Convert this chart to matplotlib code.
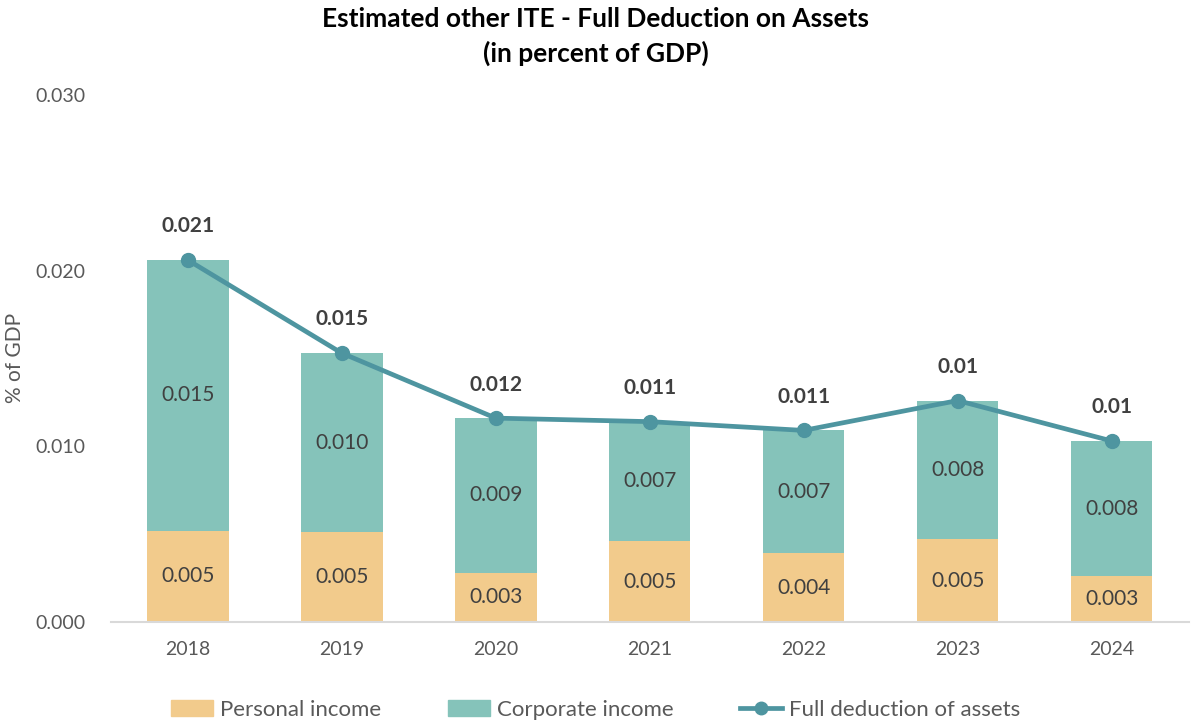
import numpy as np
import matplotlib
matplotlib.use("Agg")
import matplotlib.pyplot as plt
from matplotlib.lines import Line2D
from matplotlib.patches import Patch

plt.rcParams['font.family'] = ['Lato', 'DejaVu Sans']

years = ['2018', '2019', '2020', '2021', '2022', '2023', '2024']
personal = [0.0052, 0.0051, 0.0028, 0.0046, 0.0039, 0.0047, 0.0026]
corporate = [0.0154, 0.0102, 0.0088, 0.0068, 0.0070, 0.0079, 0.0077]
line_labels = ['0.021', '0.015', '0.012', '0.011', '0.011', '0.01', '0.01']

c_pers = '#F2CB8C'
c_corp = '#85C3BA'
c_line = '#4E95A0'
c_text = '#404040'
c_tick = '#595959'

x = np.arange(len(years))
pers = np.array(personal)
corp = np.array(corporate)
total = pers + corp

fig = plt.figure(figsize=(11.91, 7.24), dpi=100)
ax = fig.add_axes([0.093, 0.141, 0.905, 0.728])

ax.bar(x, pers, width=0.53, color=c_pers, zorder=2)
ax.bar(x, corp, width=0.53, bottom=pers, color=c_corp, zorder=2)
ax.plot(x, total, color=c_line, lw=3.4, marker='o', ms=10, zorder=3)

for i in range(len(x)):
    ax.text(x[i], pers[i] / 2, '%.3f' % pers[i], ha='center', va='center',
            fontsize=15, color=c_text, zorder=4)
    ax.text(x[i], pers[i] + corp[i] / 2, '%.3f' % corp[i], ha='center', va='center',
            fontsize=15, color=c_text, zorder=4)
    ax.annotate(line_labels[i], (x[i], total[i]), xytext=(0, 17), textcoords='offset points',
                ha='center', va='bottom', fontsize=15, fontweight='bold', color=c_text)

ax.set_xlim(-0.5, len(x) - 0.5)
ax.set_ylim(0, 0.03)
ax.set_yticks([0, 0.01, 0.02, 0.03])
ax.set_yticklabels(['0.000', '0.010', '0.020', '0.030'])
ax.set_xticks(x)
ax.set_xticklabels(years)
ax.tick_params(axis='both', length=0, labelsize=14, colors=c_tick)
ax.tick_params(axis='x', pad=14)
ax.tick_params(axis='y', pad=18)
for s in ['top', 'right', 'left']:
    ax.spines[s].set_visible(False)
ax.spines['bottom'].set_color('#D9D9D9')
ax.spines['bottom'].set_linewidth(1.5)
ax.set_ylabel('% of GDP', fontsize=15, color=c_tick, labelpad=8)

fig.suptitle('Estimated other ITE - Full Deduction on Assets\n(in percent of GDP)',
             fontsize=19, fontweight='bold', y=0.99, color='black', linespacing=1.45)

handles = [Patch(color=c_pers, label='Personal income'),
           Patch(color=c_corp, label='Corporate income'),
           Line2D([0], [0], color=c_line, lw=3.4, marker='o', ms=9, label='Full deduction of assets')]
fig.legend(handles=handles, loc='lower center', bbox_to_anchor=(0.5, -0.022), ncol=3,
           frameon=False, fontsize=16, labelcolor=c_tick, handlelength=1.9,
           columnspacing=3.0, handletextpad=0.3)

fig.savefig('out.png', dpi=100)
